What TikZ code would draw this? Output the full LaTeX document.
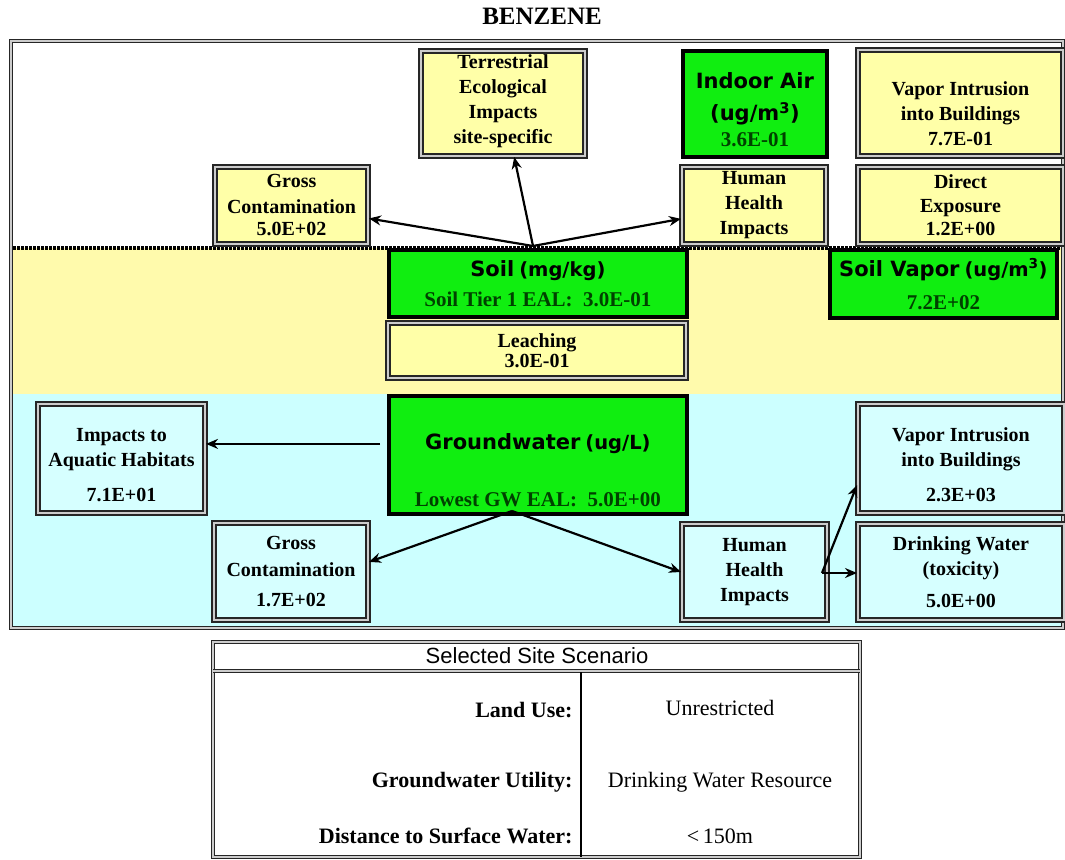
\documentclass[tikz,border=0pt]{standalone}
\usepackage{fontspec}
\setmainfont{Liberation Serif}
\setsansfont{Liberation Sans}
\newfontfamily\gsans{DejaVu Sans}
\usepackage{xcolor}
\usepackage{tikz}
\usetikzlibrary{positioning}
\usetikzlibrary{calc}
\usetikzlibrary{arrows.meta}
\definecolor{soilyellow}{RGB}{255,250,172}
\definecolor{boxyellow}{RGB}{255,255,168}
\definecolor{gwcyan}{RGB}{204,255,255}
\definecolor{boxcyan}{RGB}{214,255,255}
\definecolor{ealgreen}{RGB}{16,238,16}
\definecolor{ealtext}{RGB}{0,65,0}
\newcommand{\bigsans}[1]{{\gsans\bfseries\fontsize{21}{25}\selectfont #1}}
\newcommand{\unitsans}[1]{{\gsans\bfseries\fontsize{19.5}{25}\selectfont #1}}
\newcommand{\ealval}[1]{{\color{ealtext}\fontsize{21}{25}\selectfont #1}}
\newcommand{\pushdown}[1]{\rule{0pt}{#1}}
\tikzset{
    box text/.style={align=center, inner sep=0pt, anchor=north west, font=\bfseries\fontsize{20}{25}\selectfont},
    double frame/.style={draw=black!85, line width=1.8pt, double=gray!40, double distance=1.2pt},
    yellow node/.style={box text, draw=black!85, line width=2pt, double=gray!40, double distance=1.3pt, fill=boxyellow},
    cyan node/.style={yellow node, fill=boxcyan},
    green node/.style={box text, draw=black, line width=3.8pt, fill=ealgreen},
    soil line/.style={line width=4pt, dash pattern=on 2.5pt off 1.5pt},
    flow/.style={-{Stealth[length=12pt,width=10pt]}, line width=2.2pt},
    table label/.style={anchor=base east, font=\bfseries\fontsize{22}{22}\selectfont},
    table value/.style={anchor=base, font=\fontsize{22}{22}\selectfont}
}

\begin{document}
\begin{tikzpicture}[x=1pt, y=-1pt]
    \useasboundingbox (0,0) rectangle (1065,859);
    \fill[white] (0,0) rectangle (1065,859);
    \fill[soilyellow] (12,248) rectangle (1062,394);
    \fill[gwcyan] (12,394) rectangle (1062,627);
    \draw[double frame] (11,41) rectangle (1063,628);
    \draw[soil line] (13,248) -- (1061,248);

    \node(title)[font=\bfseries\fontsize{25}{25}\selectfont] at (542,16) {BENZENE};

    \node(terr)[yellow node, minimum width=164, minimum height=105] at (420,50) {Terrestrial\\Ecological\\Impacts\\site-specific\rule[-8pt]{0pt}{8pt}};
    \node(air)[green node, minimum width=144, minimum height=106] at (681,49) {\pushdown{28pt}\bigsans{Indoor Air}\\[7pt]\bigsans{(ug/m\textsuperscript{3})}\\[1pt]\ealval{3.6E-01}};
    \node(vi air)[yellow node, minimum width=205, minimum height=106] at (857,49) {\pushdown{36pt}Vapor Intrusion\\into Buildings\\7.7E-01};
    \node(gross soil)[yellow node, minimum width=153, minimum height=77] at (214,166) {Gross\\[1pt]Contamination\\[-3pt]5.0E+02};
    \node(hh soil)[yellow node, minimum width=144, minimum height=77] at (681,166) {Human\\Health\\Impacts};
    \node(direct)[yellow node, minimum width=205, minimum height=77] at (857,166) {Direct\\[-1pt]Exposure\\[-2pt]1.2E+00};
    \node(soil)[green node, minimum width=298, minimum height=67] at (387,248) {\bigsans{Soil} \unitsans{(mg/kg)}\\[5pt]\ealval{Soil Tier 1 EAL:\enspace 3.0E-01}};
    \node(vapor)[green node, minimum width=227, minimum height=68] at (828,248) {\bigsans{Soil Vapor} \unitsans{(ug/m\textsuperscript{3})}\\[8pt]\ealval{7.2E+02}};
    \node(leach)[yellow node, minimum width=298, minimum height=55] at (387,322) {Leaching\\[-5pt]3.0E-01};
    \node(gw)[green node, minimum width=298, minimum height=118] at (387,394) {\pushdown{47pt}\bigsans{Groundwater} \unitsans{(ug/L)}\\[32pt]\ealval{Lowest GW EAL:\enspace 5.0E+00}};
    \node(aquatic)[cyan node, minimum width=167, minimum height=109] at (37,403) {\pushdown{26pt}Impacts to\\Aquatic Habitats\\[10pt]7.1E+01};
    \node(vi water)[cyan node, minimum width=206, minimum height=109] at (857,403) {\pushdown{26pt}Vapor Intrusion\\into Buildings\\[10pt]2.3E+03};
    \node(gross gw)[cyan node, minimum width=154, minimum height=97] at (213,522) {Gross\\[2pt]Contamination\\[5pt]1.7E+02};
    \node(hh gw)[cyan node, minimum width=145, minimum height=96] at (681,523) {Human\\Health\\Impacts};
    \node(drink)[cyan node, minimum width=206, minimum height=96] at (857,523) {Drinking Water\\(toxicity)\\[7pt]5.0E+00};

    \coordinate (soilout) at (533,246);
    \draw[flow] (soilout) -- (gross soil);
    \draw[flow] (soilout) -- (terr);
    \draw[flow] (soilout) -- (hh soil);
    \coordinate (gwleft) at ($(gw.west)+(-7,-11)$);
    \draw[flow] (gwleft) -- (gwleft -| aquatic.east);
    \coordinate (gwout) at (512,511);
    \draw[flow] (gwout) -- (gross gw.7);
    \draw[flow] (gwout) -- (hh gw.west);
    \coordinate (hhout) at ($(hh gw.east)+(-6,1)$);
    \draw[flow] (hhout) -- ([yshift=29pt]vi water.south west);
    \draw[flow] (hhout) -- (hhout -| drink.west);

    \draw[double frame] (213,642) rectangle (860,857);
    \draw[double frame] (213,671) -- (860,671);
    \draw[line width=1.8pt] (581,672) -- (581,857);
    \node(scenario)[anchor=base, font=\sffamily\fontsize{22}{22}\selectfont] at (537,663) {Selected Site Scenario};
    \node(land)[table label] at (576,717) {Land Use:};
    \node(utility)[table label] at (576,787) {Groundwater Utility:};
    \node(distance)[table label] at (576,843) {Distance to Surface Water:};
    \node(land val)[table value] at (720,715) {Unrestricted};
    \node(utility val)[table value] at (720,787) {Drinking Water Resource};
    \node(distance val)[table value] at (720,843) {<\,150m};
\end{tikzpicture}
\end{document}
